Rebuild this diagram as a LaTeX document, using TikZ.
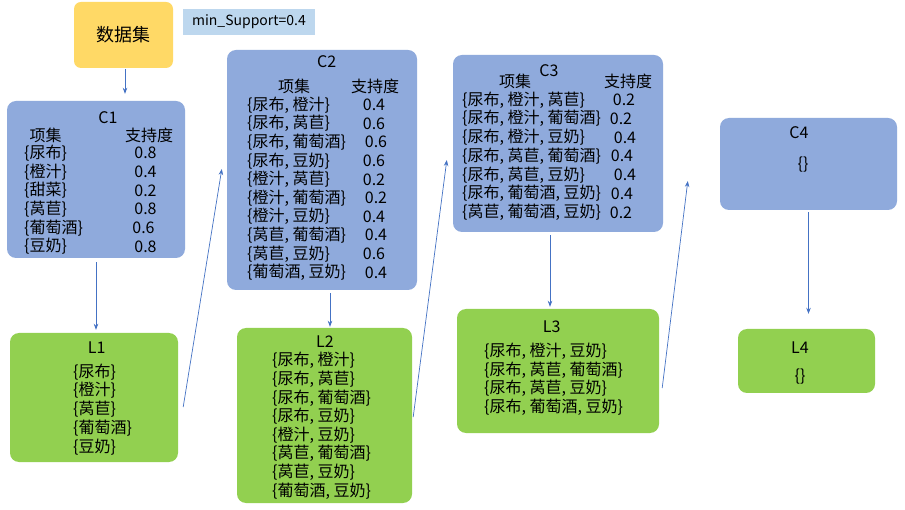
\documentclass[tikz,border=0pt]{standalone}
\usepackage{fontspec}
\setmainfont{Noto Sans CJK SC}
\usetikzlibrary{arrows.meta}
\definecolor{yel}{HTML}{FFD966}
\definecolor{blu}{HTML}{8FAADC}
\definecolor{grn}{HTML}{92D050}
\definecolor{lblu}{HTML}{BDD7EE}
\definecolor{arrc}{HTML}{4472C4}
\begin{document}
\begin{tikzpicture}[x=1pt,y=-1pt,
  box/.style={rectangle, rounded corners=9pt, inner sep=0pt},
  cbox/.style={box, fill=blu},
  lbox/.style={box, fill=grn},
  txt/.style={inner sep=0pt, font=\fontsize{16}{18}\selectfont},
  head/.style={inner sep=0pt, font=\fontsize{16}{19}\selectfont},
  conn/.style={draw=arrc, line width=0.7pt, -{Stealth[length=6pt,width=4.5pt]}}]
\useasboundingbox (0,0) rectangle (905,510);
\fill[white] (0,0) rectangle (905,510);

% boxes
\node[box, rounded corners=7pt, fill=yel, minimum width=99pt, minimum height=66pt,
      font=\fontsize{18}{20}\selectfont] (ds) at (123.5,35) {数据集};
\node[rectangle, fill=lblu, minimum width=132pt, minimum height=26pt, inner sep=0pt,
      font=\fontsize{14}{16}\selectfont] (ms) at (249,22) {min\_Support=0.4};
\node[cbox, minimum width=178pt, minimum height=157pt] (c1) at (96,179.5) {};
\node[lbox, minimum width=168pt, minimum height=129pt] (l1) at (94,397.5) {};
\node[cbox, minimum width=190pt, minimum height=240pt] (c2) at (322,170) {};
\node[lbox, minimum width=175pt, minimum height=175pt] (l2) at (324.5,415.5) {};
\node[cbox, minimum width=210pt, minimum height=177pt] (c3) at (558,143.5) {};
\node[lbox, minimum width=202pt, minimum height=124pt] (l3) at (558,371) {};
\node[cbox, minimum width=177pt, minimum height=92pt] (c4) at (808.5,164) {};
\node[lbox, minimum width=137pt, minimum height=64pt] (l4) at (806.5,361) {};

% connectors
\draw[conn, shorten <=1pt, shorten >=7pt] ([xshift=1.5pt]ds.south) -- ([xshift=1.5pt]ds.south |- c1.north);
\draw[conn, shorten <=4pt, shorten >=3pt] (c1.south) -- (c1.south |- l1.north);
\draw[conn, shorten <=3pt, shorten >=1pt] ([xshift=8pt]c2.south) -- ([xshift=8pt]c2.south |- l2.north);
\draw[conn, shorten <=3pt, shorten >=2pt] ([xshift=-8pt]c3.south) -- ([xshift=-8pt]c3.south |- l3.north);
\draw[conn, shorten <=2pt, shorten >=15pt] (c4.south) -- (c4.south |- l4.north);
\draw[conn] ([shift={(5,9.5)}]l1.east) -- ([shift={(-5,-1)}]c2.west);
\draw[conn] ([shift={(1,1.5)}]l2.east) -- ([shift={(-6,16.5)}]c3.west);
\draw[conn] ([shift={(3,17)}]l3.east) -- ([shift={(-32,17)}]c4.west);

% C1
\node[head] (c1h) at (108,118) {C1};
\node[txt] (c1a) at (45.7,135) {项集};
\node[txt] (c1b) at (149,135) {支持度};
\foreach \t/\v/\vx [count=\i] in {{\{尿布\}}/0.8/145.5, {\{橙汁\}}/0.4/145.5, {\{甜菜\}}/0.2/145.5,
    {\{莴苣\}}/0.8/145.5, {\{葡萄酒\}}/0.6/143.5, {\{豆奶\}}/0.8/145.5} {
  \node[txt, anchor=west] (c1r\i) at (24,{153+(\i-1)*18.7}) {\t};
  \node[txt] (c1v\i) at (\vx,{153+(\i-1)*18.7}) {\v};
}

% C2
\node[head] (c2h) at (326.7,62) {C2};
\node[txt] (c2a) at (294,86) {项集};
\node[txt] (c2b) at (375,86) {支持度};
\foreach \t/\v/\vx [count=\i] in {{\{尿布, 橙汁\}}/0.4/374, {\{尿布, 莴苣\}}/0.6/374,
    {\{尿布, 葡萄酒\}}/0.6/376, {\{尿布, 豆奶\}}/0.6/374, {\{橙汁, 莴苣\}}/0.2/374,
    {\{橙汁, 葡萄酒\}}/0.2/376, {\{橙汁, 豆奶\}}/0.4/374, {\{莴苣, 葡萄酒\}}/0.4/376,
    {\{莴苣, 豆奶\}}/0.6/374, {\{葡萄酒, 豆奶\}}/0.4/376} {
  \node[txt, anchor=west] (c2r\i) at (247,{105+(\i-1)*18.6}) {\t};
  \node[txt] (c2v\i) at (\vx,{105+(\i-1)*18.6}) {\v};
}

% C3
\node[head] (c3h) at (549,71) {C3};
\node[txt] (c3a) at (515,81) {项集};
\node[txt] (c3b) at (628,81) {支持度};
\foreach \t/\v/\vx [count=\i] in {{\{尿布, 橙汁, 莴苣\}}/0.2/624, {\{尿布, 橙汁, 葡萄酒\}}/0.2/621,
    {\{尿布, 橙汁, 豆奶\}}/0.4/625, {\{尿布, 莴苣, 葡萄酒\}}/0.4/622,
    {\{尿布, 莴苣, 豆奶\}}/0.4/625, {\{尿布, 葡萄酒, 豆奶\}}/0.4/622,
    {\{莴苣, 葡萄酒, 豆奶\}}/0.2/621} {
  \node[txt, anchor=west] (c3r\i) at (462,{100+(\i-1)*18.75}) {\t};
  \node[txt] (c3v\i) at (\vx,{100+(\i-1)*18.75}) {\v};
}

% C4
\node[head] (c4h) at (799,133) {C4};
\node[txt] (c4e) at (803,165) {\{\}};

% L1
\node[head] (l1h) at (96.7,348) {L1};
\foreach \t [count=\i] in {{\{尿布\}}, {\{橙汁\}}, {\{莴苣\}}, {\{葡萄酒\}}, {\{豆奶\}}} {
  \node[txt, anchor=west] (l1r\i) at (73,{371.7+(\i-1)*18.75}) {\t};
}

% L2
\node[head] (l2h) at (325,342) {L2};
\foreach \t [count=\i] in {{\{尿布, 橙汁\}}, {\{尿布, 莴苣\}}, {\{尿布, 葡萄酒\}}, {\{尿布, 豆奶\}},
    {\{橙汁, 豆奶\}}, {\{莴苣, 葡萄酒\}}, {\{莴苣, 豆奶\}}, {\{葡萄酒, 豆奶\}}} {
  \node[txt, anchor=west] (l2r\i) at (272,{360.7+(\i-1)*18.6}) {\t};
}

% L3
\node[head] (l3h) at (551.7,327) {L3};
\foreach \t [count=\i] in {{\{尿布, 橙汁, 豆奶\}}, {\{尿布, 莴苣, 葡萄酒\}}, {\{尿布, 莴苣, 豆奶\}},
    {\{尿布, 葡萄酒, 豆奶\}}} {
  \node[txt, anchor=west] (l3r\i) at (484,{351.7+(\i-1)*18.4}) {\t};
}

% L4
\node[head] (l4h) at (800,348) {L4};
\node[txt] (l4e) at (800,377) {\{\}};
\end{tikzpicture}
\end{document}
